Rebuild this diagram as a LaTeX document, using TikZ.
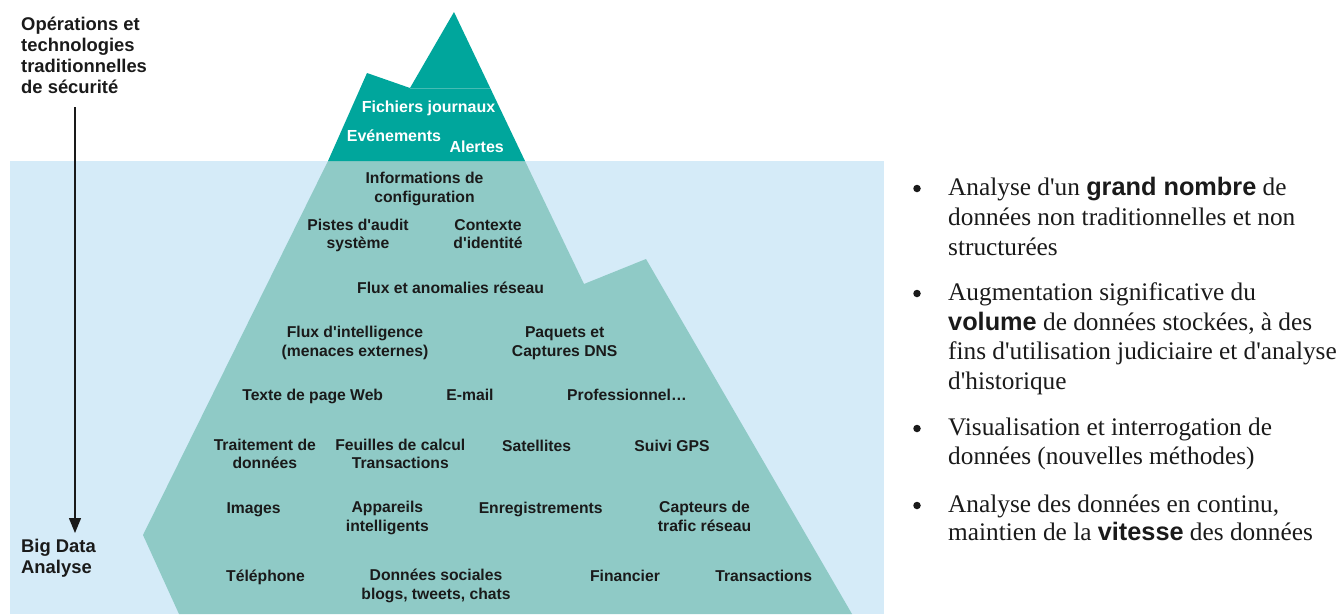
\documentclass[tikz,border=0pt]{standalone}
\usepackage{fontspec}
\setmainfont{Liberation Serif}[Ligatures=TeXOff]
\newfontfamily\lsans{Liberation Sans}[Ligatures=TeXOff]
\usetikzlibrary{arrows.meta}
\definecolor{seablue}{HTML}{D5EBF8}
\definecolor{topteal}{HTML}{00A69C}
\definecolor{lowteal}{HTML}{8FCAC6}
\definecolor{septeal}{HTML}{45BCB4}
\definecolor{ink}{HTML}{1A1A1A}
\newcommand\bsw[1]{{\lsans\bfseries #1}}
\begin{document}
\begin{tikzpicture}[x=1pt,y=-1pt,
  lab/.style={font=\lsans\bfseries\fontsize{15.7}{18.5}\selectfont, text=ink, align=center, anchor=base, inner sep=0pt},
  toplab/.style={font=\lsans\bfseries\fontsize{16}{19}\selectfont, text=white, anchor=base, inner sep=0pt},
  sidelab/.style={font=\lsans\bfseries\fontsize{18.4}{21.3}\selectfont, text=ink, anchor=base west, inner sep=0pt},
  bline/.style={font=\fontsize{25.3}{29.5}\selectfont, text=ink, anchor=base west, inner sep=0pt},
  bdot/.style={circle, fill=ink, inner sep=0pt, minimum size=7.5pt}
]
\useasboundingbox (0,0) rectangle (1338,614);
% sea
\fill[seablue] (10,161) rectangle (884,614);
% iceberg
\fill[lowteal] (328,161) -- (143,535) -- (179,614) -- (852,614) -- (646,259) -- (584,284) -- (525,161) -- cycle;
\fill[topteal] (328,161) -- (367,73) -- (410,88) -- (454,12) -- (525,161) -- cycle;
\draw[septeal, line width=0.8pt] (410,88) -- (490,88);

% top labels
\node[toplab] (fj) at (428.5,112.4) {Fichiers journaux};
\node[toplab] (ev) at (394,141.4) {Evénements};
\node[toplab] (al) at (476.7,152.4) {Alertes};

% underwater labels (multi-line: anchor at last baseline)
\node[lab] (ic) at (424.5,202) {Informations de\\configuration};
\node[lab] (pa) at (358,248.5) {Pistes d'audit\\système};
\node[lab] (ci) at (488,248.5) {Contexte\\d'identité};
\node[lab] (fa) at (450.6,293.5) {Flux et anomalies réseau};
\node[lab] (fi) at (355,356) {Flux d'intelligence\\(menaces externes)};
\node[lab] (pc) at (564.7,356) {Paquets et\\Captures DNS};
\node[lab] (tw) at (312.7,400.5) {Texte de page Web};
\node[lab] (em) at (470,400.5) {E-mail};
\node[lab] (pr) at (627,400.5) {Professionnel…};
\node[lab] (td) at (264.8,468.5) {Traitement de\\données};
\node[lab] (fc) at (400.3,468.5) {Feuilles de calcul\\Transactions};
\node[lab] (sa) at (536.6,451.5) {Satellites};
\node[lab] (gp) at (672,451.5) {Suivi GPS};
\node[lab] (im) at (253.6,513) {Images};
\node[lab] (ai) at (387.4,531) {Appareils\\intelligents};
\node[lab] (en) at (540.7,513) {Enregistrements};
\node[lab] (ct) at (704.6,531) {Capteurs de\\trafic réseau};
\node[lab] (te) at (265.5,581) {Téléphone};
\node[lab] (ds) at (436,599) {Données sociales\\blogs, tweets, chats};
\node[lab] (fn) at (625,581) {Financier};
\node[lab] (tr) at (763.7,581) {Transactions};

% side labels
\node[sidelab] (s1) at (21,30) {Opérations et};
\node[sidelab] (s2) at (21,51.3) {technologies};
\node[sidelab] (s3) at (21,72.6) {traditionnelles};
\node[sidelab] (s4) at (21,93.9) {de sécurité};
\node[sidelab] (s5) at (21,552) {Big Data};
\node[sidelab] (s6) at (21,573) {Analyse};
\coordinate (atop) at (75,107);
\coordinate (abot) at (75,533);
\draw[ink, line width=1.3pt, -{Triangle[length=15pt,width=12pt]}] (atop) -- (abot);

% bullets
\node[bdot] (d1) at (917,188.5) {};
\node[bline] (l11) at (948,195) {Analyse d'un \bsw{grand nombre} de};
\node[bline] (l12) at (948,225) {données non traditionnelles et non};
\node[bline] (l13) at (948,255) {structurées};
\node[bdot] (d2) at (917,293.5) {};
\node[bline] (l21) at (948,300) {Augmentation significative du};
\node[bline] (l22) at (948,330) {\bsw{volume} de données stockées, à des};
\node[bline] (l23) at (948,359) {fins d'utilisation judiciaire et d'analyse};
\node[bline] (l24) at (948,389) {d'historique};
\node[bdot] (d3) at (917,428.5) {};
\node[bline] (l31) at (948,435) {Visualisation et interrogation de};
\node[bline] (l32) at (948,464) {données (nouvelles méthodes)};
\node[bdot] (d4) at (917,505.5) {};
\node[bline] (l41) at (948,512) {Analyse des données en continu,};
\node[bline] (l42) at (948,540) {maintien de la \bsw{vitesse} des données};
\end{tikzpicture}
\end{document}
